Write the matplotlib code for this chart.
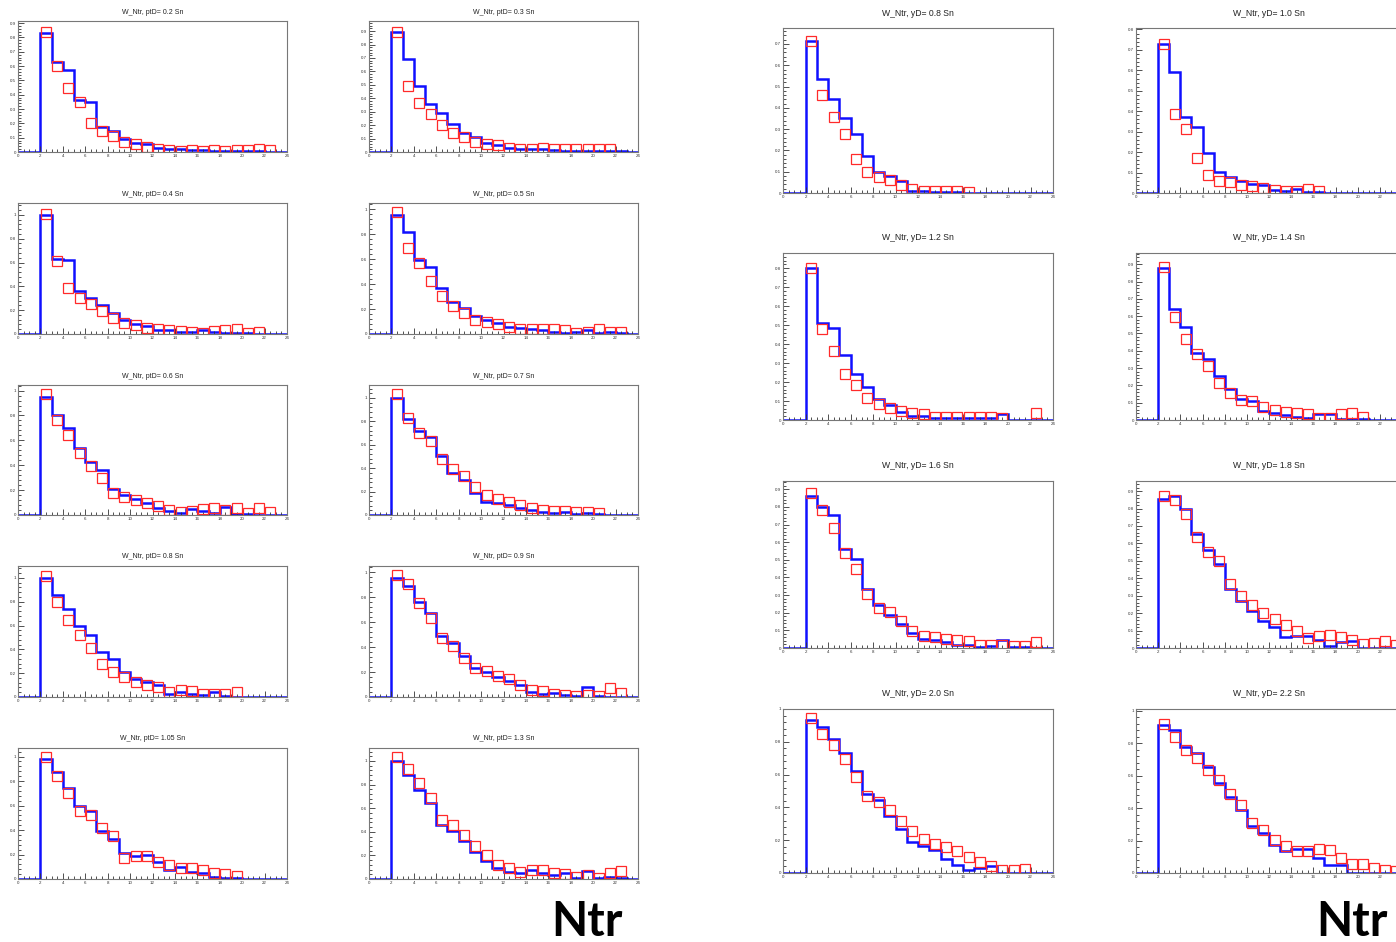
import numpy as np
import matplotlib
matplotlib.use("Agg")
import matplotlib.pyplot as plt
from matplotlib.ticker import MultipleLocator

plt.rcParams['font.family'] = ['Liberation Sans', 'DejaVu Sans']

W, H = 1396, 942

# bin edges of the Ntr histograms; data bins start at Ntr = 2
edges = np.arange(0, 25)
first_bin = 2

# ---- left block: W_Ntr in ptD slices (blue = line histogram, red = open squares)
ptd_titles = ["W_Ntr, ptD= 0.2 Sn", "W_Ntr, ptD= 0.3 Sn",
              "W_Ntr, ptD= 0.4 Sn", "W_Ntr, ptD= 0.5 Sn",
              "W_Ntr, ptD= 0.6 Sn", "W_Ntr, ptD= 0.7 Sn",
              "W_Ntr, ptD= 0.8 Sn", "W_Ntr, ptD= 0.9 Sn",
              "W_Ntr, ptD= 1.05 Sn", "W_Ntr, ptD= 1.3 Sn"]

b_pt02 = [0.83, 0.63, 0.57, 0.36, 0.35, 0.175, 0.15, 0.09, 0.065, 0.055, 0.03,
          0.02, 0.02, 0.015, 0.015, 0.01, 0.01, 0.01, 0.005, 0.005, 0.003, 0]
r_pt02 = [0.84, 0.60, 0.45, 0.35, 0.20, 0.145, 0.11, 0.07, 0.055, 0.035, 0.02,
          0.015, 0.01, 0.012, 0.01, 0.012, 0.01, 0.012, 0.015, 0.02, 0.012, 0]
b_pt03 = [0.895, 0.695, 0.49, 0.355, 0.29, 0.21, 0.14, 0.11, 0.07, 0.055, 0.03,
          0.025, 0.02, 0.02, 0.015, 0.01, 0.01, 0.01, 0.005, 0.005, 0.005, 0]
r_pt03 = [0.89, 0.49, 0.365, 0.28, 0.2, 0.145, 0.11, 0.075, 0.06, 0.05, 0.03,
          0.025, 0.025, 0.03, 0.025, 0.02, 0.02, 0.025, 0.02, 0.02, 0, 0]
b_pt04 = [1.0, 0.63, 0.62, 0.36, 0.30, 0.24, 0.175, 0.12, 0.087, 0.064, 0.036,
          0.03, 0.017, 0.014, 0.036, 0.014, 0.008, 0.005, 0.005, 0.003, 0, 0]
r_pt04 = [1.01, 0.61, 0.385, 0.30, 0.255, 0.19, 0.135, 0.09, 0.073, 0.05, 0.042,
          0.036, 0.022, 0.017, 0.008, 0.022, 0.036, 0.042, 0.008, 0.014, 0, 0]
b_pt05 = [0.955, 0.82, 0.595, 0.535, 0.37, 0.26, 0.21, 0.145, 0.115, 0.088, 0.06,
          0.048, 0.043, 0.035, 0.02, 0.008, 0.02, 0.03, 0.008, 0.013, 0.005, 0]
r_pt05 = [0.975, 0.69, 0.57, 0.425, 0.305, 0.225, 0.17, 0.115, 0.096, 0.08, 0.06,
          0.043, 0.043, 0.04, 0.043, 0.035, 0.008, 0.02, 0.04, 0.016, 0.013, 0]
b_pt06 = [0.95, 0.80, 0.696, 0.54, 0.43, 0.36, 0.206, 0.16, 0.13, 0.094, 0.06,
          0.032, 0.02, 0.046, 0.032, 0.013, 0.062, 0.005, 0.005, 0.003, 0, 0]
r_pt06 = [0.97, 0.76, 0.64, 0.5, 0.39, 0.295, 0.18, 0.147, 0.12, 0.1, 0.075,
          0.04, 0.027, 0.032, 0.046, 0.054, 0.04, 0.054, 0.013, 0.054, 0.027, 0]
b_pt07 = [1.0, 0.82, 0.72, 0.67, 0.5, 0.36, 0.3, 0.185, 0.115, 0.105, 0.085,
          0.057, 0.043, 0.028, 0.014, 0.028, 0.006, 0.014, 0.005, 0.003, 0, 0]
r_pt07 = [1.03, 0.83, 0.7, 0.63, 0.48, 0.39, 0.33, 0.24, 0.17, 0.14, 0.115,
          0.085, 0.062, 0.043, 0.037, 0.034, 0.028, 0.023, 0.02, 0, 0, 0]
b_pt08 = [1.0, 0.86, 0.74, 0.6, 0.52, 0.38, 0.315, 0.21, 0.155, 0.127, 0.1,
          0.028, 0.042, 0.028, 0.014, 0.042, 0.006, 0.003, 0, 0, 0, 0]
r_pt08 = [1.02, 0.8, 0.65, 0.52, 0.41, 0.28, 0.21, 0.17, 0.127, 0.1, 0.085,
          0.042, 0.056, 0.05, 0.028, 0.022, 0.028, 0.042, 0, 0, 0, 0]
b_pt09 = [0.955, 0.89, 0.76, 0.675, 0.487, 0.43, 0.33, 0.233, 0.2, 0.16, 0.126,
          0.094, 0.037, 0.027, 0.032, 0.019, 0.01, 0.08, 0.005, 0.003, 0, 0]
r_pt09 = [0.975, 0.905, 0.755, 0.635, 0.475, 0.405, 0.31, 0.23, 0.205, 0.17, 0.145,
          0.1, 0.06, 0.045, 0.027, 0.019, 0.01, 0.015, 0.01, 0.072, 0.03, 0]
b_pt105 = [0.98, 0.87, 0.745, 0.595, 0.553, 0.39, 0.326, 0.216, 0.184, 0.197, 0.142,
           0.074, 0.1, 0.06, 0.047, 0.019, 0.011, 0.005, 0, 0, 0, 0]
r_pt105 = [1.0, 0.84, 0.704, 0.553, 0.52, 0.416, 0.353, 0.17, 0.184, 0.184, 0.142,
           0.115, 0.088, 0.088, 0.074, 0.052, 0.038, 0.025, 0, 0, 0, 0]
b_pt13 = [1.0, 0.88, 0.75, 0.645, 0.46, 0.41, 0.32, 0.233, 0.153, 0.097, 0.062,
          0.048, 0.077, 0.054, 0.034, 0.048, 0.011, 0.071, 0.011, 0.02, 0.011, 0]
r_pt13 = [1.03, 0.93, 0.815, 0.69, 0.5, 0.46, 0.375, 0.28, 0.2, 0.12, 0.09,
          0.06, 0.077, 0.077, 0.048, 0.04, 0.02, 0.034, 0.006, 0.048, 0.068, 0]

ptd_blue = [b_pt02, b_pt03, b_pt04, b_pt05, b_pt06, b_pt07, b_pt08, b_pt09, b_pt105, b_pt13]
ptd_red = [r_pt02, r_pt03, r_pt04, r_pt05, r_pt06, r_pt07, r_pt08, r_pt09, r_pt105, r_pt13]
ptd_ymax = [0.915, 0.975, 1.10, 1.05, 1.045, 1.11, 1.10, 1.05, 1.07, 1.11]
ptd_ystep = [0.1, 0.1, 0.2, 0.2, 0.2, 0.2, 0.2, 0.2, 0.2, 0.2]

# ---- right block: W_Ntr in yD slices
yd_titles = ["W_Ntr, yD= 0.8 Sn", "W_Ntr, yD= 1.0 Sn",
             "W_Ntr, yD= 1.2 Sn", "W_Ntr, yD= 1.4 Sn",
             "W_Ntr, yD= 1.6 Sn", "W_Ntr, yD= 1.8 Sn",
             "W_Ntr, yD= 2.0 Sn", "W_Ntr, yD= 2.2 Sn"]

b_y08 = [0.715, 0.535, 0.44, 0.35, 0.275, 0.173, 0.1, 0.08, 0.057, 0.01, 0.01,
         0.005, 0.005, 0.005, 0, 0, 0, 0, 0, 0, 0, 0]
r_y08 = [0.713, 0.46, 0.355, 0.275, 0.162, 0.1, 0.075, 0.06, 0.036, 0.017, 0.01,
         0.01, 0.01, 0.01, 0.004, 0, 0, 0, 0, 0, 0, 0]
b_y10 = [0.727, 0.594, 0.374, 0.321, 0.194, 0.101, 0.077, 0.061, 0.042, 0.037, 0.013,
         0.01, 0.018, 0.005, 0.003, 0, 0, 0, 0, 0, 0, 0]
r_y10 = [0.73, 0.385, 0.313, 0.173, 0.09, 0.061, 0.053, 0.037, 0.034, 0.026, 0.016,
         0.01, 0.01, 0.021, 0.008, 0, 0, 0, 0, 0, 0, 0]
b_y12 = [0.8, 0.51, 0.485, 0.34, 0.243, 0.176, 0.111, 0.079, 0.04, 0.023, 0.023,
         0.009, 0.009, 0.009, 0.009, 0.009, 0.009, 0.032, 0, 0, 0, 0]
r_y12 = [0.8, 0.48, 0.365, 0.243, 0.182, 0.115, 0.085, 0.062, 0.05, 0.035, 0.032,
         0.018, 0.014, 0.014, 0.014, 0.014, 0.014, 0.009, 0, 0, 0.035, 0]
b_y14 = [0.88, 0.642, 0.538, 0.388, 0.354, 0.254, 0.18, 0.123, 0.11, 0.052, 0.038,
         0.027, 0.019, 0.013, 0.033, 0.033, 0.008, 0.005, 0.003, 0, 0, 0]
r_y14 = [0.883, 0.594, 0.469, 0.379, 0.312, 0.215, 0.158, 0.113, 0.11, 0.077, 0.058,
         0.046, 0.042, 0.037, 0.013, 0.013, 0.033, 0.042, 0.019, 0, 0, 0]
b_y16 = [0.864, 0.80, 0.754, 0.564, 0.502, 0.337, 0.242, 0.186, 0.138, 0.087, 0.053,
         0.044, 0.034, 0.015, 0.015, 0.006, 0.009, 0.044, 0.006, 0.003, 0, 0]
r_y16 = [0.877, 0.782, 0.678, 0.536, 0.45, 0.309, 0.227, 0.205, 0.152, 0.095, 0.068,
         0.063, 0.053, 0.044, 0.038, 0.019, 0.019, 0.015, 0.011, 0.011, 0.034, 0]
b_y18 = [0.857, 0.872, 0.8, 0.656, 0.561, 0.481, 0.338, 0.271, 0.21, 0.153, 0.118,
         0.065, 0.071, 0.071, 0.046, 0.013, 0.032, 0.042, 0, 0, 0, 0]
r_y18 = [0.872, 0.847, 0.767, 0.637, 0.548, 0.5, 0.366, 0.3, 0.248, 0.2, 0.166,
         0.134, 0.1, 0.055, 0.071, 0.074, 0.061, 0.046, 0.023, 0.027, 0.042, 0.02]
b_y20 = [0.932, 0.89, 0.82, 0.733, 0.625, 0.48, 0.445, 0.348, 0.27, 0.189, 0.164,
         0.139, 0.086, 0.051, 0.016, 0.031, 0.045, 0, 0, 0, 0, 0]
r_y20 = [0.947, 0.85, 0.778, 0.697, 0.584, 0.467, 0.434, 0.383, 0.318, 0.256, 0.205,
         0.174, 0.16, 0.133, 0.098, 0.066, 0.041, 0.02, 0.016, 0.025, 0, 0]
b_y22 = [0.909, 0.879, 0.779, 0.738, 0.652, 0.557, 0.467, 0.386, 0.29, 0.245, 0.175,
         0.135, 0.145, 0.145, 0.095, 0.048, 0.048, 0, 0, 0, 0, 0]
r_y22 = [0.92, 0.835, 0.759, 0.708, 0.632, 0.571, 0.487, 0.416, 0.31, 0.266, 0.205,
         0.165, 0.135, 0.135, 0.145, 0.139, 0.095, 0.054, 0.054, 0.028, 0.02, 0.01]

yd_blue = [b_y08, b_y10, b_y12, b_y14, b_y16, b_y18, b_y20, b_y22]
yd_red = [r_y08, r_y10, r_y12, r_y14, r_y16, r_y18, r_y20, r_y22]
yd_ymax = [0.775, 0.807, 0.88, 0.965, 0.947, 0.958, 1.0, 1.01]
yd_ystep = [0.1, 0.1, 0.1, 0.1, 0.1, 0.1, 0.2, 0.2]

# frame positions in pixels (x0, x1), (y0, y1)
left_cols = [(18, 287), (369, 638)]
left_rows = [(21, 152), (203, 334), (385, 515), (566, 697), (748, 879)]
right_cols = [(783, 1053), (1136, 1402)]
right_rows = [(28, 193), (253, 420), (481, 648), (709, 873)]

fig = plt.figure(figsize=(W / 100, H / 100), dpi=100)


def draw_panel(xs, ys, title, blue, red, ymax, ystep, title_gap, title_size):
    x0, x1 = xs
    y0, y1 = ys
    ax = fig.add_axes([x0 / W, 1 - y1 / H, (x1 - x0) / W, (y1 - y0) / H])
    vals = np.concatenate([np.zeros(first_bin), np.array(blue, dtype=float)])
    ax.stairs(vals, edges, color="#1010ff", lw=1.8, baseline=0)
    red = np.array(red, dtype=float)
    centres = np.arange(first_bin, first_bin + len(red)) + 0.5
    keep = red > 0
    ax.plot(centres[keep], red[keep], ls="none", marker="s", ms=7,
            mfc="none", mec="#ff2a2a", mew=0.9)
    ax.set_xlim(0, 24)
    ax.set_ylim(0, ymax)
    ax.xaxis.set_major_locator(MultipleLocator(2))
    ax.xaxis.set_minor_locator(MultipleLocator(0.5))
    ax.yaxis.set_major_locator(MultipleLocator(ystep))
    ax.yaxis.set_minor_locator(MultipleLocator(ystep / 5))
    ax.tick_params(which="both", direction="in", labelsize=3.2,
                   colors="#333333", pad=1.5, width=0.6)
    ax.tick_params(which="major", length=4)
    ax.tick_params(which="minor", length=2)
    ax.yaxis.set_major_formatter(plt.FuncFormatter(lambda v, p: f"{v:g}"))
    # the rightmost panels run past the edge of the page: drop labels out there
    x_right = x1 - (x1 - x0) * 0.02
    ax.xaxis.set_major_formatter(plt.FuncFormatter(
        lambda v, p: "" if x0 + v / 24 * (x1 - x0) > W - 4 else f"{v:g}"))
    for sp in ax.spines.values():
        sp.set_color("#777777")
        sp.set_linewidth(0.8)
    fig.text((x0 + x1) / 2 / W, 1 - (y0 - title_gap) / H, title,
             ha="center", va="center", fontsize=title_size, color="#222222")
    return ax


k = 0
for r in left_rows:
    for c in left_cols:
        draw_panel(c, r, ptd_titles[k], ptd_blue[k], ptd_red[k],
                   ptd_ymax[k], ptd_ystep[k], 9, 5.0)
        k += 1

k = 0
for r in right_rows:
    for c in right_cols:
        draw_panel(c, r, yd_titles[k], yd_blue[k], yd_red[k],
                   yd_ymax[k], yd_ystep[k], 15, 6.2)
        k += 1

for xc in (587, 1352):
    fig.text(xc / W, 1 - 922 / H, "Ntr", ha="center", va="center",
             fontsize=34, fontweight="bold", family=["Lato", "DejaVu Sans"])

fig.savefig("out.png", dpi=100)
